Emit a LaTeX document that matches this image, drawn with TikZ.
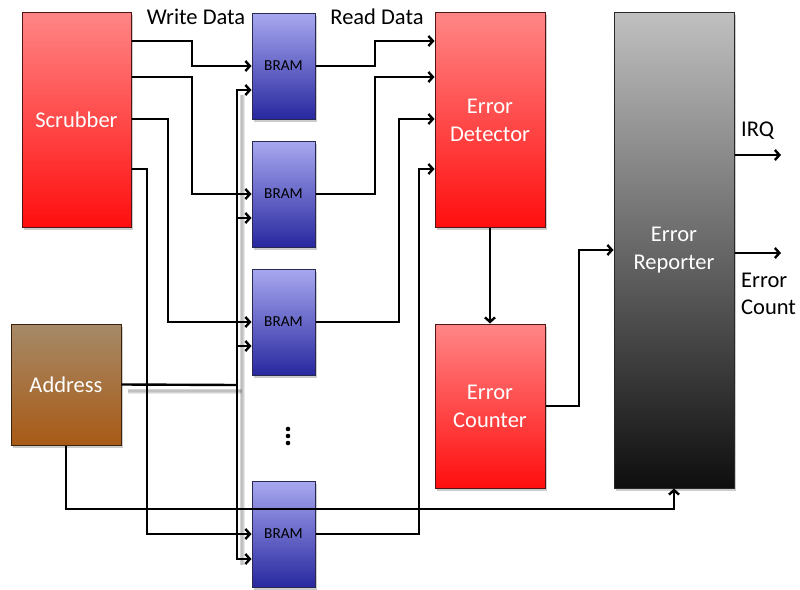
\documentclass[tikz,border=0pt]{standalone}
\usepackage{fontspec}
\setmainfont{Carlito}
\usetikzlibrary{arrows.meta,shadows}

\definecolor{redtop}{RGB}{255,134,134}
\definecolor{redbot}{RGB}{255,14,14}
\definecolor{redline}{RGB}{80,20,20}
\definecolor{addrtop}{RGB}{166,138,104}
\definecolor{addrbot}{RGB}{168,90,22}
\definecolor{addrline}{RGB}{60,36,12}
\definecolor{bramtop}{RGB}{168,168,240}
\definecolor{brambot}{RGB}{40,40,160}
\definecolor{bramline}{RGB}{40,40,80}
\definecolor{reptop}{RGB}{192,192,192}
\definecolor{repbot}{RGB}{14,14,14}
\definecolor{repline}{RGB}{40,40,40}

\begin{document}
\begin{tikzpicture}[x=1pt,y=-1pt,
  box/.style={rectangle, inner sep=0pt, line width=1pt, align=center,
    font=\fontsize{22.5}{28}\selectfont, text=white,
    drop shadow={shadow xshift=1.5pt, shadow yshift=-2.5pt, fill=black!20, opacity=1}},
  redbox/.style={box, draw=redline, top color=redtop, bottom color=redbot},
  addrbox/.style={box, draw=addrline, top color=addrtop, bottom color=addrbot},
  brambox/.style={box, draw=bramline, top color=bramtop, bottom color=brambot,
    minimum width=63pt, minimum height=106pt, text=black,
    font=\fontsize{15.3}{18}\selectfont},
  repbox/.style={box, draw=repline, top color=reptop, bottom color=repbot},
  wire/.style={line width=2.4pt, black},
  arr/.style={wire, -{Straight Barb[length=4.5pt,width=10pt]}},
  lbl/.style={font=\fontsize{22.5}{27}\selectfont, text=black, inner sep=0pt},
  busshadow/.style={line width=#1, black, opacity=0.09}]

\useasboundingbox (0,0) rectangle (800,589);

% blocks
\node[redbox, minimum width=109pt, minimum height=215pt] (scrub) at (76.5,119.5) {Scrubber};
\node[addrbox, minimum width=110pt, minimum height=121pt] (addr) at (66,384.5) {Address};
\node[brambox] (b1) at (283.5,66) {BRAM};
\node[brambox] (b2) at (283.5,194) {BRAM};
\node[brambox] (b3) at (283.5,322) {BRAM};
\node[brambox] (b4) at (283.5,534) {BRAM};
\node[redbox, minimum width=110pt, minimum height=215pt] (det) at (490,120) {Error\\Detector};
\node[redbox, minimum width=110pt, minimum height=164pt] (cnt) at (490,406) {Error\\Counter};
\node[repbox, minimum width=120pt, minimum height=476pt] (rep) at (674,250) {Error\\Reporter};

% ellipsis between the memories
\fill (288,429) circle (2.3pt) (288,436) circle (2.3pt) (288,443) circle (2.3pt);

% labels
\node[lbl] (wd) at (196,17) {Write Data};
\node[lbl] (rd) at (377,17) {Read Data};
\node[lbl, anchor=west] (irq) at (741,131) {IRQ};
\node[lbl, anchor=west, align=left] (ec) at (741,294) {Error\\Count};

% soft shadow under the address bus
\foreach \w in {2pt,3.5pt,5pt}{
  \draw[busshadow=\w] (128,391) -- (242,391);
  \draw[busshadow=\w] (242,95) -- (242,565);
}

% address bus
\coordinate (bus) at (237,385);
\draw[wire] (addr.east) -- (bus);
\draw[arr] (bus) |- (b1.west |- 0,90);
\draw[arr] (bus) |- (b2.west |- 0,218);
\draw[arr] (bus) |- (b3.west |- 0,346);
\draw[arr] (bus) |- (b4.west |- 0,559);
\draw[arr] (addr.south) |- (674,509) -- (rep.south);

% write data
\draw[arr] (scrub.east |- 0,41) -| (192,66) -- (b1.west);
\draw[arr] (scrub.east |- 0,77) -| (192,194) -- (b2.west);
\draw[arr] (scrub.east |- 0,119) -| (168,322) -- (b3.west);
\draw[arr] (scrub.east |- 0,169) -| (147,534) -- (b4.west);

% read data
\draw[arr] (b1.east) -| (375,41) -- (det.west |- 0,41);
\draw[arr] (b2.east) -| (375,77) -- (det.west |- 0,77);
\draw[arr] (b3.east) -| (399,119) -- (det.west |- 0,119);
\draw[arr] (b4.east) -| (419,169) -- (det.west |- 0,169);

% error path
\draw[arr] (det.south) -- (cnt.north);
\draw[arr] (cnt.east) -| (579,250) -- (rep.west);
\coordinate (irqend) at (781,155);
\coordinate (ecend) at (781,253);
\draw[arr] (rep.east |- irqend) -- (irqend);
\draw[arr] (rep.east |- ecend) -- (ecend);

\end{tikzpicture}
\end{document}
